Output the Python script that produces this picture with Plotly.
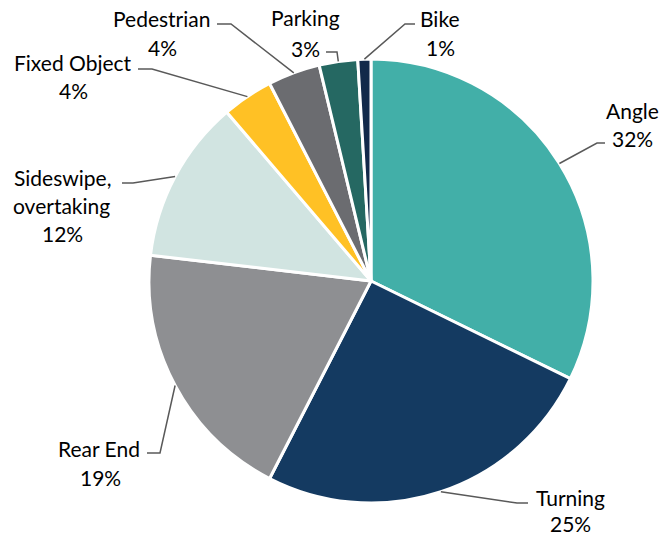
import math
import plotly.graph_objects as go

# ---- data ----
categories = ["Angle", "Turning", "Rear End", "Sideswipe, overtaking",
              "Fixed Object", "Pedestrian", "Parking", "Bike"]
shares = [32.25, 25.3, 19.3, 11.9, 3.7, 3.8, 2.8, 0.95]
colors = ["#42AFA8", "#143A61", "#8E8F92", "#D1E4E1",
          "#FFC125", "#6B6C70", "#256862", "#12294A"]

# ---- layout constants (pixels) ----
W, H = 663, 536
CX, CY, R = 371, 281, 222
FONT = "Lato"
FS = 21
# label text lines (x, y of each line centre) and leader elbow (start, bend)
label_pos = {
    "Angle": dict(lines=[(632, 110), (632, 138)], lead=[(605, 143), (597, 143)]),
    "Turning": dict(lines=[(570, 497), (570, 523)], lead=[(528, 503), (517, 503)]),
    "Rear End": dict(lines=[(99, 448), (100, 477)], lead=[(147, 453), (160, 453)]),
    "Sideswipe, overtaking": dict(lines=[(62, 177), (61, 205), (62, 233)],
                                  lead=[(122, 183), (133, 183)]),
    "Fixed Object": dict(lines=[(73, 62), (73, 90)], lead=[(138, 69), (152, 69)]),
    "Pedestrian": dict(lines=[(161, 18), (162, 47)], lead=[(217, 24), (231, 24)]),
    "Parking": dict(lines=[(305, 17), (305, 48)], lead=[(326, 52), (337, 52)]),
    "Bike": dict(lines=[(440, 18), (440, 47)], lead=[(415, 24), (405, 24)]),
}

fig = go.Figure()
fig.add_trace(go.Pie(
    labels=categories, values=shares, sort=False, direction="clockwise",
    rotation=0, textinfo="none", hoverinfo="label+percent",
    marker=dict(colors=colors, line=dict(color="white", width=3)),
    domain=dict(x=[(CX - R) / W, (CX + R) / W], y=[1 - (CY + R) / H, 1 - (CY - R) / H]),
    showlegend=False,
))

annotations = []
shapes = []
total = sum(shares)
cum = 0.0
for name, v in zip(categories, shares):
    mid = (cum + v / 2) / total * 2 * math.pi
    cum += v
    ex = CX + R * math.sin(mid)
    ey = CY - R * math.cos(mid)
    pos = label_pos[name]
    name_lines = name.split(", ")
    if len(name_lines) > 1:
        name_lines = [name_lines[0] + ","] + name_lines[1:]
    texts = name_lines + [f"{round(v / total * 100)}%"]
    for t, (tx, ty) in zip(texts, pos["lines"]):
        annotations.append(dict(x=tx, y=ty, xref="x", yref="y", text=t, showarrow=False,
                                xanchor="center", yanchor="middle",
                                font=dict(family=FONT, size=FS, color="#000000")))
    (sx, sy), (bx, by) = pos["lead"]
    shapes.append(dict(type="path", xref="x", yref="y",
                       path=f"M {sx} {sy} L {bx} {by} L {ex:.1f} {ey:.1f}",
                       line=dict(color="#595959", width=1.5)))

fig.update_layout(
    width=W, height=H, margin=dict(l=0, r=0, t=0, b=0),
    paper_bgcolor="white", plot_bgcolor="rgba(0,0,0,0)",
    xaxis=dict(range=[0, W], visible=False, fixedrange=True),
    yaxis=dict(range=[H, 0], visible=False, fixedrange=True),
    annotations=annotations, shapes=shapes,
)

fig.write_html("out.html")
